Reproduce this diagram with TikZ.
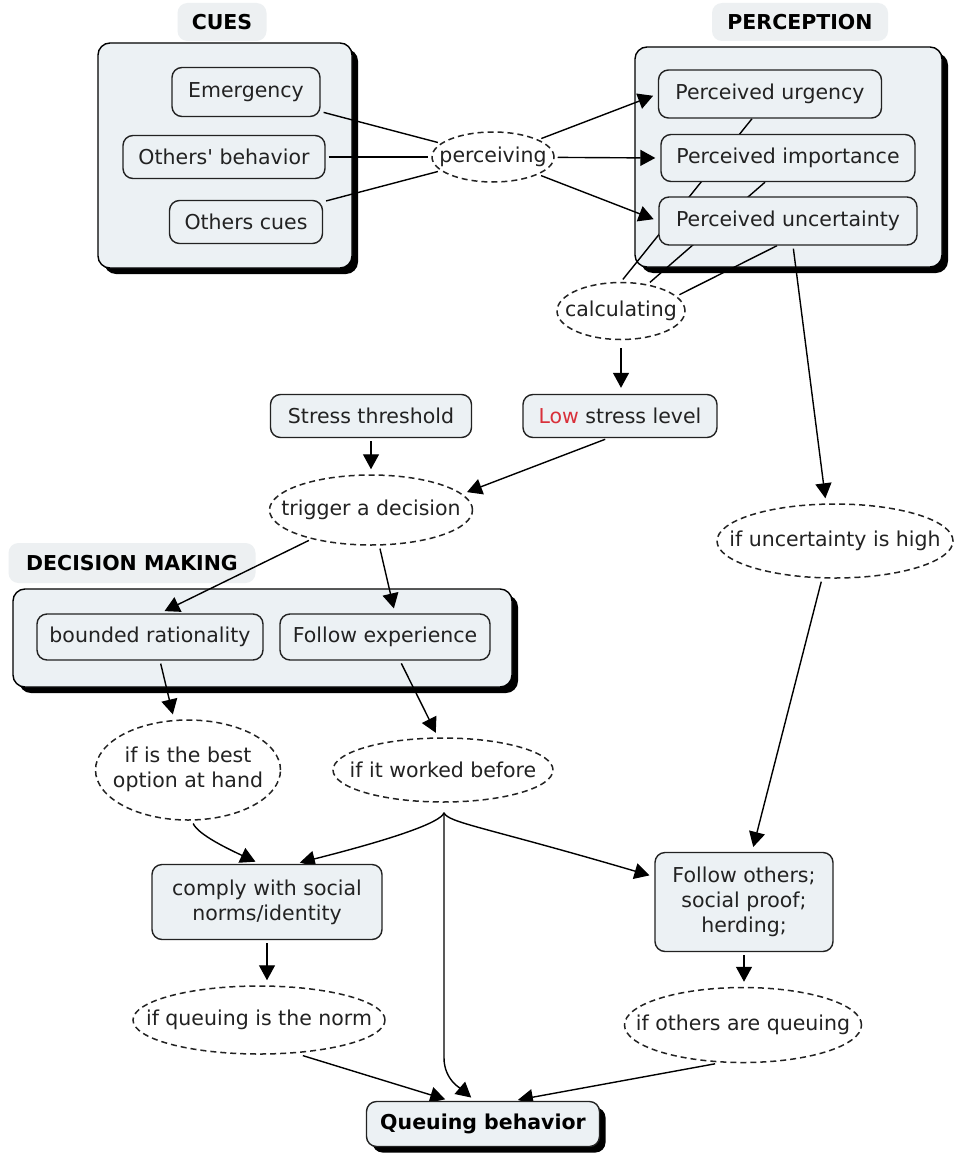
\documentclass[tikz,border=0pt]{standalone}
\usepackage{fontspec}
\setmainfont{DejaVu Sans}
\usetikzlibrary{shapes.geometric,shadows,arrows.meta,calc}
\pgfdeclarelayer{back}
\pgfdeclarelayer{links}
\pgfsetlayers{back,links,main}
\definecolor{boxfill}{HTML}{ECF1F4}
\definecolor{titlefill}{HTML}{EDF0F2}
\definecolor{ink}{HTML}{222222}
\definecolor{lowred}{HTML}{D9303A}
% text of a linking phrase takes no width, so the ellipse keeps its set size
\newcommand\zw[1]{\makebox[0pt]{#1}}

\begin{document}
\begin{tikzpicture}[x=1pt,y=1pt,
  font=\fontsize{20.5}{25}\selectfont, text=ink,
  concept/.style={draw=ink, line width=1.4pt, fill=boxfill, rounded corners=10pt,
    inner sep=0pt, align=center},
  phrase/.style={ellipse, draw=ink, line width=1.5pt, dash pattern=on 6pt off 4pt,
    fill=white, inner sep=0pt},
  group/.style={draw=black, line width=1.4pt, fill=boxfill, rounded corners=12pt,
    drop shadow={shadow xshift=6pt, shadow yshift=-6pt, fill=black, opacity=1}},
  heading/.style={fill=titlefill, rounded corners=10pt, text=black,
    font=\fontsize{20.5}{25}\selectfont\bfseries},
  link/.style={line width=1.4pt, draw=black, shorten <=3pt, shorten >=3pt},
  arr/.style={link, -{Triangle[length=15pt,width=16pt]}, shorten >=5pt},
]
\useasboundingbox (0,0) rectangle (954,-1156);

% group frames and their headings
\begin{pgfonlayer}{back}
  \fill[white] (0,0) rectangle (954,-1156);
  \node[group, minimum width=254, minimum height=225] (cuesC) at (225,-155.5) {};
  \node[group, minimum width=307, minimum height=220] (percC) at (788.5,-157) {};
  \node[group, minimum width=499, minimum height=98] (decC) at (262.5,-638) {};
  \node[heading, minimum width=89, minimum height=38] (cuesT) at (222,-22) {CUES};
  \node[heading, minimum width=176, minimum height=38] (percT) at (800,-22) {PERCEPTION};
  \node[heading, minimum width=247, minimum height=40] (decT) at (132,-563) {DECISION MAKING};
\end{pgfonlayer}

% cues
\node[concept, minimum width=148, minimum height=49] (emg) at (246,-92) {Emergency};
\node[concept, minimum width=202, minimum height=43] (obh) at (224,-157) {Others\textquotesingle{} behavior};
\node[concept, minimum width=153, minimum height=43] (ocu) at (246,-222) {Others cues};
\node[phrase, minimum width=122, minimum height=50] (perc) at (493,-157) {\zw{perceiving}};

% perception
\node[concept, minimum width=223, minimum height=48] (pu) at (770,-94) {Perceived urgency};
\node[concept, minimum width=254, minimum height=47] (pi) at (788,-158) {Perceived importance};
\node[concept, minimum width=258, minimum height=48] (pun) at (788,-221) {Perceived uncertainty};
\node[phrase, minimum width=128, minimum height=57] (calc) at (621,-311) {\zw{calculating}};

% stress
\node[concept, minimum width=194, minimum height=43] (low) at (620,-416) {\textcolor{lowred}{Low} stress level};
\node[concept, minimum width=201, minimum height=43] (sth) at (371,-416) {Stress threshold};
\node[phrase, minimum width=203, minimum height=70] (trig) at (371,-510) {\zw{trigger a decision}};

% decision making
\node[concept, minimum width=226, minimum height=46] (bnd) at (150,-637) {bounded rationality};
\node[concept, minimum width=210, minimum height=46] (fex) at (385,-637) {Follow experience};
\node[phrase, minimum width=185, minimum height=100] (best) at (188,-770)
  {\zw{\begin{tabular}{@{}c@{}}if is the best\\option at hand\end{tabular}}};
\node[phrase, minimum width=220, minimum height=64] (work) at (443,-770) {\zw{if it worked before}};
\node[phrase, minimum width=236, minimum height=74] (unc) at (835,-541) {\zw{if uncertainty is high}};

% behaviours
\node[concept, minimum width=230, minimum height=75] (comply) at (267,-902) {comply with social\\norms/identity};
\node[concept, minimum width=178, minimum height=99] (fol) at (744,-902) {Follow others;\\social proof;\\herding;};
\node[phrase, minimum width=252, minimum height=68] (qnorm) at (259,-1020) {\zw{if queuing is the norm}};
\node[phrase, minimum width=237, minimum height=75] (qoth) at (743,-1025) {\zw{if others are queuing}};
\node[concept, minimum width=233, minimum height=45, font=\fontsize{20.5}{25}\selectfont\bfseries, text=black,
  drop shadow={shadow xshift=6pt, shadow yshift=-6pt, fill=black, opacity=1}] (qb) at (483,-1124) {Queuing behavior};

\coordinate (j) at ($(work.south)+(1,-10)$);

% connectors
\begin{pgfonlayer}{links}
  \draw[link] (emg) -- (perc);
  \draw[link] (obh) -- (perc);
  \draw[link] (ocu) -- (perc);
  \draw[arr] (perc) -- (pu.west);
  \draw[arr] (perc) -- (pi.west);
  \draw[arr] (perc) -- (pun.west);
  % perceived values feeding the calculation, running behind the boxes
  \draw[link, shorten >=0pt] (calc.north) -- ($(pu.south)+(-18,0)$);
  \draw[link, shorten >=0pt] (calc.45) -- ($(pi.south)+(-23,0)$);
  \draw[link, shorten >=0pt] (calc.15) -- ($(pun.south)+(-11,0)$);
  \draw[arr, shorten <=8pt, shorten >=6pt] (calc.south) -- (calc.south |- low.north);
  \draw[arr] (sth) -- (trig);
  \draw[arr] ($(low.south)+(-12,0)$) -- (trig.10);
  \draw[arr] (trig) -- ($(bnd.north)+(10,0)$);
  \draw[arr] (trig) -- ($(fex.north)+(10,0)$);
  \draw[arr] ($(bnd.south)+(10,0)$) -- ($(best.north)+(-14,0)$);
  \draw[arr] ($(fex.south)+(15,0)$) -- ($(work.north)+(-5,0)$);
  \draw[arr] ($(best.south)+(4,0)$) .. controls +(6,-14) and +(-30,14) .. ($(comply.north)+(-7,0)$);
  \draw[arr, shorten <=0pt] (j) .. controls +(-3,-10) and +(95,24) .. ($(comply.north)+(28,0)$);
  \draw[arr, shorten <=0pt] (j) .. controls +(4,-10) and +(-170,50) .. ($(fol.north west)+(0,-25)$);
  \draw[arr, shorten <=0pt] (j) -- ++(0,-245) .. controls +(0,-22) and +(-14,12) .. ($(qb.north)+(-8,0)$);
  \draw[arr] (comply.south) -- (comply.south |- qnorm.north);
  \draw[arr] ($(qnorm.south)+(41,0)$) -- ($(qb.north)+(-33,0)$);
  \draw[arr] ($(qoth.south)+(-25,0)$) -- ($(qb.north)+(30,0)$);
  \draw[arr] (fol.south) -- (fol.south |- qoth.north);
  \draw[arr] ($(pun.south)+(5,0)$) -- ($(unc.north)+(-9,0)$);
  \draw[arr] ($(unc.south)+(-13,0)$) -- ($(fol.north)+(8,0)$);
\end{pgfonlayer}
\end{tikzpicture}
\end{document}
